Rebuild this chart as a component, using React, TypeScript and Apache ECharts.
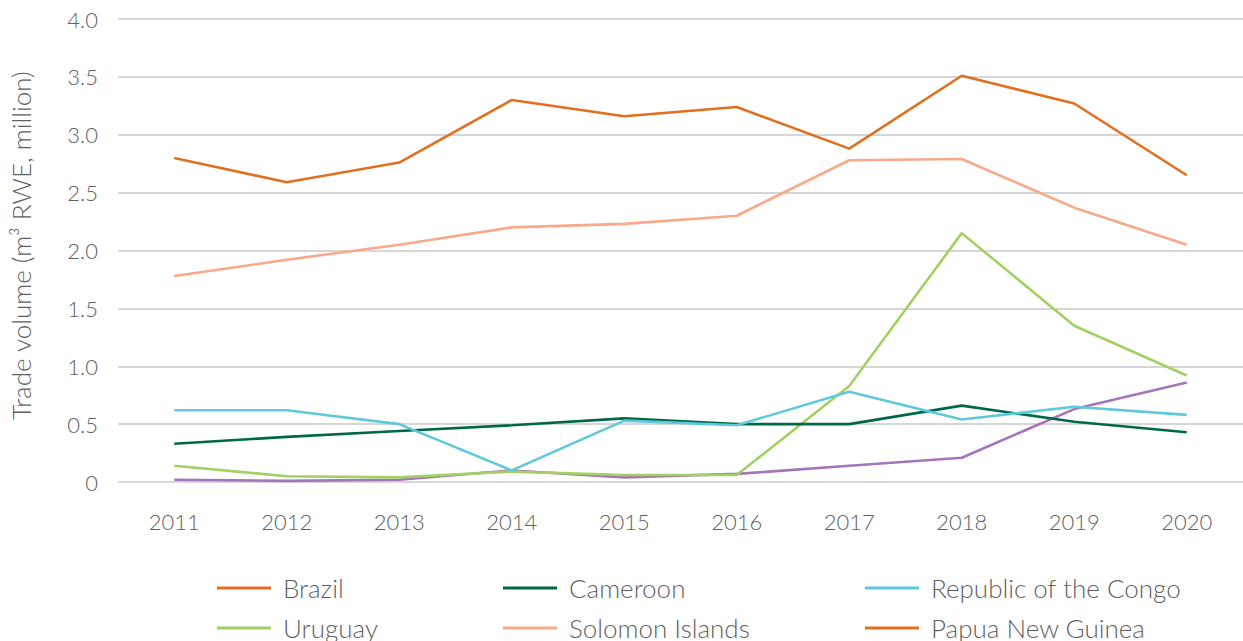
import React, { useEffect, useRef } from "react";
import * as echarts from "echarts";

const years = ["2011", "2012", "2013", "2014", "2015", "2016", "2017", "2018", "2019", "2020"];
const brazil = [2.8, 2.59, 2.76, 3.3, 3.16, 3.24, 2.88, 3.51, 3.27, 2.65];
const cameroon = [0.33, 0.39, 0.44, 0.49, 0.55, 0.5, 0.5, 0.66, 0.52, 0.43];
const congo = [0.62, 0.62, 0.5, 0.1, 0.53, 0.49, 0.78, 0.54, 0.65, 0.58];
const uruguay = [0.14, 0.05, 0.04, 0.09, 0.06, 0.06, 0.83, 2.15, 1.35, 0.92];
const solomon = [1.78, 1.92, 2.05, 2.2, 2.23, 2.3, 2.78, 2.79, 2.37, 2.05];
const png: number[] = [];
const other = [0.02, 0.01, 0.02, 0.1, 0.04, 0.07, 0.14, 0.21, 0.63, 0.86];

const C_ORANGE = "#E0701F";
const C_CAM = "#00684A";
const C_CONGO = "#5FC9DC";
const C_URU = "#A2D062";
const C_SOL = "#F7A98A";
const C_PURPLE = "#A574BA";

const FONT = "Lato, 'Open Sans', sans-serif";
const GRAY = "#5f5f5f";

export default function App() {
  const ref = useRef<HTMLDivElement>(null);
  useEffect(() => {
    if (!ref.current) return;
    const chart = echarts.init(ref.current, undefined, { renderer: "svg" });
    const mk = (name: string, data: number[], color: string) => ({
      name,
      type: "line",
      data,
      symbol: "none",
      color,
      lineStyle: { color, width: 2.6 },
      z: 3,
    });
    const legendBase = (left: number, names: string[]) => ({
      orient: "vertical",
      left,
      top: 574,
      height: 120,
      padding: 0,
      itemGap: 12,
      itemWidth: 54,
      itemHeight: 3,
      icon: "rect",
      data: names,
      selectedMode: false,
      textStyle: {
        fontFamily: FONT,
        fontWeight: 300,
        fontSize: 26,
        color: GRAY,
        padding: [0, 0, 0, 7],
        lineHeight: 28,
      },
    });
    chart.setOption({
      animation: false,
      grid: { left: 115, right: -3, top: 19, bottom: 159 },
      legend: [
        legendBase(217, ["Brazil", "Uruguay"]),
        legendBase(503, ["Cameroon", "Solomon Islands"]),
        legendBase(865, ["Republic of the Congo", "Papua New Guinea"]),
      ],
      xAxis: {
        type: "category",
        data: years,
        boundaryGap: true,
        axisLine: { show: false },
        axisTick: { show: false },
        axisLabel: {
          fontFamily: FONT,
          fontWeight: 300,
          fontSize: 22,
          color: GRAY,
          margin: 28,
        },
      },
      yAxis: {
        type: "value",
        min: 0,
        max: 4,
        interval: 0.5,
        name: "Trade volume (m³ RWE, million)",
        nameLocation: "middle",
        nameGap: 84,
        nameTextStyle: {
          fontFamily: FONT,
          fontWeight: 300,
          fontSize: 26,
          color: GRAY,
          padding: [0, 0, 0, 10],
        },
        axisLine: { show: false },
        axisTick: { show: false },
        splitLine: { lineStyle: { color: "#c8c8c8", width: 1.5 } },
        axisLabel: {
          fontFamily: FONT,
          fontWeight: 300,
          fontSize: 22,
          color: GRAY,
          margin: 20,
          formatter: (v: number) => (v === 0 ? "0" : v.toFixed(1)),
        },
      },
      series: [
        mk("Other", other, C_PURPLE),
        mk("Uruguay", uruguay, C_URU),
        mk("Cameroon", cameroon, C_CAM),
        mk("Republic of the Congo", congo, C_CONGO),
        mk("Solomon Islands", solomon, C_SOL),
        mk("Papua New Guinea", png, C_ORANGE),
        mk("Brazil", brazil, C_ORANGE),
      ],
    });
    return () => chart.dispose();
  }, []);
  return (
    <div
      ref={ref}
      style={{ position: "absolute", left: 0, top: 0, width: 1243, height: 641, background: "#fff" }}
    />
  );
}
